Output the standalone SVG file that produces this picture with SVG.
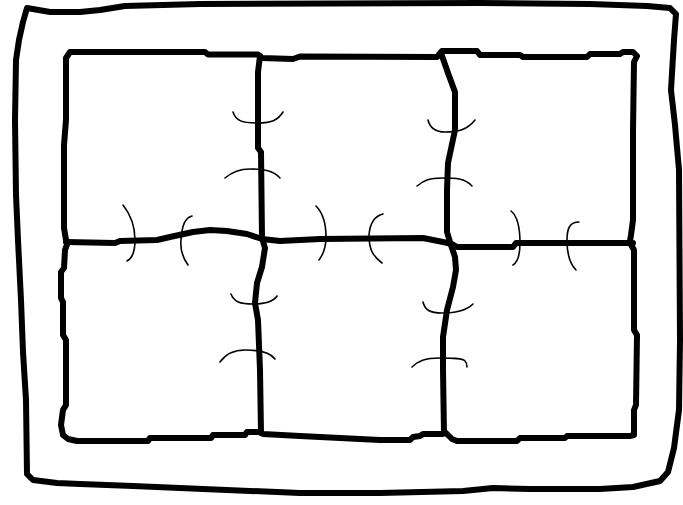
<svg xmlns="http://www.w3.org/2000/svg" width="683" height="505" viewBox="0 0 683 505">
<style>
.thick{fill:none;stroke:#000;stroke-width:6;stroke-linejoin:round;stroke-linecap:round}
.thin{fill:none;stroke:#000;stroke-width:1.6;stroke-linecap:round}
</style>
<rect width="683" height="505" fill="#fff"/>
<g id="outer-frame">
<path class="thick" d="M27,8 L50,12 L80,12 L100,10 L125,6 L200,4 L480,3 L590,4 L647,6 L670,8 L676,14 L674,40 L671,90 L675,125 L679,170 L680,340 L679,410 L674,448 L668,472 L660,481 L633,487 L600,489 L530,489 L493,488 L463,491 L380,493 L300,493 L277,492 L203,489 L133,486 L80,484 L57,483 L33,480 L27,474 L26,400 L23,352 L21,300 L18,240 L16,195 L15,120 L16,60 L19,40 L23,22 Z"/>
</g>
<g id="inner-grid">
<path class="thick" d="M66,240 L64,228 L64,145 L66,120 L66,58 L70,52 L205,52 L208,54.5 L258,54.5 L262,58 L293,59 L300,56.5 L437,57 L442,51 L477,51 L480,55 L520,55 L523,57 L587,57 L590,54 L620,54 L623,52 L633,52 L637,56 L634,62 L633,130 L633,220 L631,235 L630,241"/>
<path class="thick" d="M630,243 L634,250 L634,330 L637,335 L636,405 L634,410 L634,435 L630,436 L567,436 L565,438 L520,438 L517,441 L457,441 L452,439 L446,433 L442,434 L423,434 L420,436 L413,437 L410,440 L380,440 L300,436 L263,434 L260,432 L247,432 L245,435 L213,435 L211,438 L150,438 L148,441 L77,441 L68,439 L63,435 L61,425 L63,410 L66,405 L66,340 L63,335 L63,302 L61,298 L61,272 L64,268 L65,250 L68,242"/>
</g>
<g id="seams">
<path class="thick" d="M66,242 L115,243 L120,241 L157,240 L170,237 L193,232 L210,230 L227,231 L247,234 L262,239 L280,241 L320,239 L423,238 L443,242 L452,244 L457,247 L513,247 L516,243 L633,243"/>
<path class="thick" d="M260,56 L258,72 L258,148 L261,152 L262,238 L265,248 L262,267 L257,283 L255,303 L258,320 L260,370 L261,433"/>
<path class="thick" d="M441,53 L448,73 L455,92 L455,130 L448,163 L447,190 L447,232 L450,242 L455,257 L456,270 L453,287 L447,310 L443,337 L443,370 L444,433"/>
</g>
<g id="stitches">
<path class="thin" d="M233,112 C236,121 242,123 258,123 C272,123 278,120 283,112"/>
<path class="thin" d="M225,178 C232,172 240,169 250,169 C262,169 273,170 280,178"/>
<path class="thin" d="M428,120 C430,128 435,132 445,132 C458,132 467,130 475,120"/>
<path class="thin" d="M417,186 C424,180 430,178 442,178 C455,178 465,178 472,186"/>
<path class="thin" d="M123,205 C131,215 135,225 135,240 C135,250 133,258 127,261"/>
<path class="thin" d="M192,216 C185,218 182,225 181,240 C180,250 183,258 188,265"/>
<path class="thin" d="M316,206 C322,212 326,220 326,237 C326,250 322,256 319,260"/>
<path class="thin" d="M383,214 C375,216 370,222 369,235 C369,250 373,256 382,263"/>
<path class="thin" d="M511,211 C516,215 520,225 520,243 C520,255 518,262 513,265"/>
<path class="thin" d="M579,222 C570,222 567,228 567,240 C567,255 570,264 576,270"/>
<path class="thin" d="M231,294 C234,302 240,304 253,304 C265,304 273,302 277,296"/>
<path class="thin" d="M220,362 C225,355 232,350 245,350 C258,350 270,352 275,359"/>
<path class="thin" d="M423,302 C425,310 430,313 442,313 C455,313 467,310 473,304"/>
<path class="thin" d="M412,367 C418,361 425,358 440,358 C452,358 462,358 465,361 C467,363 467,365 467,367"/>
</g>
</svg>
